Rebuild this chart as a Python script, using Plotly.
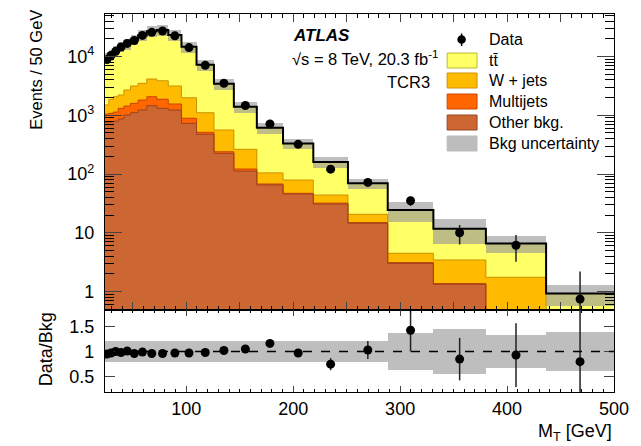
import plotly.graph_objects as go
import numpy as np

# ---------------- data ----------------
bin_edges = [24.0, 27.54, 31.62, 36.31, 41.69, 47.86, 54.95, 63.10, 72.44, 83.18,
             95.50, 109.6, 125.9, 144.5, 166.0, 190.5, 218.8, 251.2, 288.4, 331.1,
             380.2, 436.5, 500.0]

other_bkg = [760, 770, 790, 865, 1010, 1105, 1230, 1460, 1315, 1230, 730, 475, 225,
             112, 65, 45.6, 30.8, 14.5, 3.0, 1.32, 0.35, 0.1]
multijets = [290, 310, 345, 450, 430, 495, 590, 615, 560, 330, 160, 38, 15,
             9.6, 2.6, 1.3, 1.1, 0.4, 0.1, 0.04, 0.01, 0.0]
wjets = [450, 795, 940, 905, 1260, 1555, 1685, 2075, 2005, 1595, 1105, 595, 322,
         142, 37, 32, 12, 5.7, 1.36, 2.07, 1.38, 0.2]
ttbar = [7900, 8925, 10225, 12680, 13900, 16440, 19695, 22850, 24620, 20145, 12705,
         6142, 2888, 1136, 510, 251, 116, 48.9, 19.9, 8.2, 4.8, 0.62]

bkg_unc = [0.21, 0.21, 0.21, 0.21, 0.21, 0.21, 0.21, 0.21, 0.21, 0.21, 0.21, 0.21,
           0.21, 0.21, 0.21, 0.20, 0.20, 0.20, 0.37, 0.45, 0.32, 0.38]

data = [8930, 10480, 12300, 14600, 16770, 18820, 22970, 25900, 27360, 22600, 14260,
        7100, 3520, 1470, 713, 320, 121, 72, 35, 10.0, 6.1, 0.74]
data_err_up = [95, 100, 110, 120, 130, 135, 150, 160, 165, 150, 120, 85, 60, 38,
               26, 17, 14, 10, 6.4, 3.5, 3.0, 1.45]
data_err_dn = [95, 100, 110, 120, 130, 135, 150, 160, 165, 150, 120, 85, 60, 38,
               26, 17, 14, 10, 6.4, 3.7, 2.9, 0.65]

ratio = [0.95, 0.97, 1.0, 0.98, 1.01, 0.96, 0.99, 0.96, 0.96, 0.97, 0.97, 0.98,
         1.02, 1.05, 1.16, 0.97, 0.75, 1.03, 1.42, 0.85, 0.93, 0.80]
ratio_err_up = [0.04, 0.035, 0.03, 0.03, 0.025, 0.025, 0.02, 0.02, 0.02, 0.02, 0.02,
                0.02, 0.03, 0.04, 0.06, 0.08, 0.12, 0.18, 0.42, 0.42, 0.63, 1.3]
ratio_err_dn = [0.04, 0.035, 0.03, 0.03, 0.025, 0.025, 0.02, 0.02, 0.02, 0.02, 0.02,
                0.02, 0.03, 0.04, 0.06, 0.08, 0.12, 0.18, 0.42, 0.42, 0.63, 0.8]

legend_labels = ["Data", "t\u0074\u0304", "W + jets", "Multijets", "Other bkg.",
                 "Bkg uncertainty"]
x_label_vals = [100, 200, 300, 400, 500]
x_label_text = ["100", "200", "300", "400", "500"]
y_tick_vals = [1, 10, 100, 1000, 10000]
y_tick_text = ["1", "10", "10<sup>2</sup>", "10<sup>3</sup>", "10<sup>4</sup>"]
r_tick_vals = [0.5, 1, 1.5]
r_tick_text = ["0.5", "1", "1.5"]

# ---------------- styling ----------------
C_TT = "#FFFF66"
C_W = "#FFBB00"
C_MJ = "#FF6600"
C_OT = "#CC6633"
C_UNC = "rgba(150,150,150,0.62)"
FONT = "Liberation Sans, Arial, Helvetica, sans-serif"

edges = np.array(bin_edges)
centers = 0.5 * (edges[1:] + edges[:-1])
widths = edges[1:] - edges[:-1]

c_other = np.array(other_bkg)
c_mj = c_other + np.array(multijets)
c_w = c_mj + np.array(wjets)
total = c_w + np.array(ttbar)
unc = np.array(bkg_unc)

fig = go.Figure()

layers = [(total, C_TT, "#BBBB33"), (c_w, C_W, "#CC9200"),
          (c_mj, C_MJ, "#CC4400"), (c_other, C_OT, "#994422")]
for vals, col, _ in layers:
    fig.add_trace(go.Bar(x=centers, y=vals, width=widths, marker=dict(color=col, line=dict(width=0)),
                         xaxis="x", yaxis="y", showlegend=False, hoverinfo="skip"))
for vals, _, lc in layers[1:]:
    fig.add_trace(go.Scatter(x=edges, y=list(vals) + [vals[-1]], mode="lines", line_shape="hv",
                             line=dict(color=lc, width=1), xaxis="x", yaxis="y",
                             showlegend=False, hoverinfo="skip"))

# uncertainty band (main)
fig.add_trace(go.Bar(x=centers, y=2 * unc * total, base=total * (1 - unc), width=widths,
                     marker=dict(color=C_UNC, line=dict(width=0)), xaxis="x", yaxis="y",
                     showlegend=False, hoverinfo="skip"))
# total outline
fig.add_trace(go.Scatter(x=edges, y=list(total) + [total[-1]], mode="lines", line_shape="hv",
                         line=dict(color="black", width=2), xaxis="x", yaxis="y",
                         showlegend=False, hoverinfo="skip"))
# data
fig.add_trace(go.Scatter(x=centers, y=data, mode="markers",
                         marker=dict(color="black", size=9),
                         error_y=dict(type="data", symmetric=False, array=data_err_up,
                                      arrayminus=data_err_dn, width=0, thickness=1.5, color="#222"),
                         xaxis="x", yaxis="y", showlegend=False))

# ratio band
fig.add_trace(go.Bar(x=centers, y=2 * unc, base=1 - unc, width=widths,
                     marker=dict(color=C_UNC, line=dict(width=0)), xaxis="x2", yaxis="y2",
                     showlegend=False, hoverinfo="skip"))
fig.add_trace(go.Scatter(x=centers, y=ratio, mode="markers",
                         marker=dict(color="black", size=9),
                         error_y=dict(type="data", symmetric=False, array=ratio_err_up,
                                      arrayminus=ratio_err_dn, width=0, thickness=1.5, color="#222"),
                         xaxis="x2", yaxis="y2", showlegend=False))

# ---------------- layout ----------------
W, H = 641, 446
L, R, T, B = 105, 25, 14, 54
ph = H - T - B  # 378
pw = W - L - R  # 511
split = (392 - 310) / ph


def px(xp):
    return (xp - L) / pw


def py(yp):
    return (H - B - yp) / ph


axis_common = dict(showline=True, linecolor="black", linewidth=1.2, mirror="allticks",
                   ticks="inside", showgrid=False, zeroline=False,
                   tickfont=dict(family=FONT, size=18, color="black"))

log_minor = []
for d in range(-1, 5):
    for m in range(2, 10):
        log_minor.append(m * 10 ** d)

fig.update_layout(
    width=W, height=H, margin=dict(l=L, r=R, t=T, b=B),
    paper_bgcolor="white", plot_bgcolor="white", barmode="overlay", bargap=0,
    showlegend=False, font=dict(family=FONT, color="black"),
    xaxis=dict(domain=[0, 1], anchor="y", range=[24, 500], tickmode="linear", tick0=0,
               dtick=50, showticklabels=False, ticklen=8,
               minor=dict(tickmode="linear", tick0=0, dtick=10, ticks="inside", ticklen=4,
                          tickcolor="black"),
               **axis_common),
    yaxis=dict(domain=[split, 1], anchor="x", type="log", range=[-0.317, 4.726],
               tickmode="array", tickvals=y_tick_vals, ticktext=y_tick_text, ticklen=17,
               ticklabelstandoff=6,
               minor=dict(tickmode="array", tickvals=log_minor, ticks="inside", ticklen=9,
                          tickcolor="black"),
               **axis_common),
    xaxis2=dict(domain=[0, 1], anchor="y2", matches="x", range=[24, 500], tickmode="array",
                tickvals=x_label_vals, ticktext=x_label_text, ticklen=6,
                minor=dict(tickmode="linear", tick0=0, dtick=10, ticks="inside", ticklen=3,
                           tickcolor="black"),
                **axis_common),
    yaxis2=dict(domain=[0, split], anchor="x2", range=[0.2, 1.82], tickmode="array",
                tickvals=r_tick_vals, ticktext=r_tick_text, ticklen=10, ticklabelstandoff=6,
                **axis_common),
)

fig.add_shape(type="line", xref="x2 domain", yref="y2", x0=0, x1=1, y0=1, y1=1,
              line=dict(color="black", width=1.5, dash="dash"))

ann = []
ann.append(dict(text="Events / 50 GeV", x=px(35.5), y=py(70), textangle=-90,
                font=dict(size=16.5)))
ann.append(dict(text="Data/Bkg", x=px(46), y=py(349), textangle=-90, font=dict(size=18)))
ann.append(dict(text="M<sub>T</sub> [GeV]", x=px(616), y=py(432), xanchor="right",
                font=dict(size=18)))
ann.append(dict(text="<b><i>ATLAS</i></b>", x=px(292), y=py(35), xanchor="left",
                font=dict(size=17)))
ann.append(dict(text="\u221as = 8 TeV, 20.3 fb<sup>-1</sup>", x=px(291), y=py(58),
                xanchor="left", font=dict(size=16.5)))
ann.append(dict(text="TCR3", x=px(386), y=py(81.5), xanchor="left", font=dict(size=16.5)))

leg_y = [39.5, 60.5, 80.5, 101.5, 122.5, 143.5]
for lab, yy in zip(legend_labels, leg_y):
    ann.append(dict(text=lab, x=px(489), y=py(yy), xanchor="left", font=dict(size=16)))

for a in ann:
    a.setdefault("xanchor", "center")
    a.update(xref="paper", yref="paper", yanchor="middle", showarrow=False)
    a["font"] = dict(family=FONT, color="black", **a["font"])
fig.update_layout(annotations=ann)

# legend swatches
sw = [(C_TT, "#BBBB33"), (C_W, "#CC9200"), (C_MJ, "#CC4400"), (C_OT, "#994422"),
      ("#BDBDBD", "#BDBDBD")]
for (fc, lc), yy in zip(sw, leg_y[1:]):
    fig.add_shape(type="rect", xref="paper", yref="paper", x0=px(448.5), x1=px(478.5),
                  y0=py(yy + 7.5), y1=py(yy - 7.5), fillcolor=fc, line=dict(color=lc, width=1))
# data legend symbol
fig.add_shape(type="line", xref="paper", yref="paper", x0=px(463), x1=px(463),
              y0=py(33.5), y1=py(46), line=dict(color="black", width=1.5))
fig.add_shape(type="circle", xref="paper", yref="paper", x0=px(463 - 4.3), x1=px(463 + 4.3),
              y0=py(39.5 + 4.3), y1=py(39.5 - 4.3), fillcolor="black", line=dict(color="black", width=0))

fig.write_html("out.html")
